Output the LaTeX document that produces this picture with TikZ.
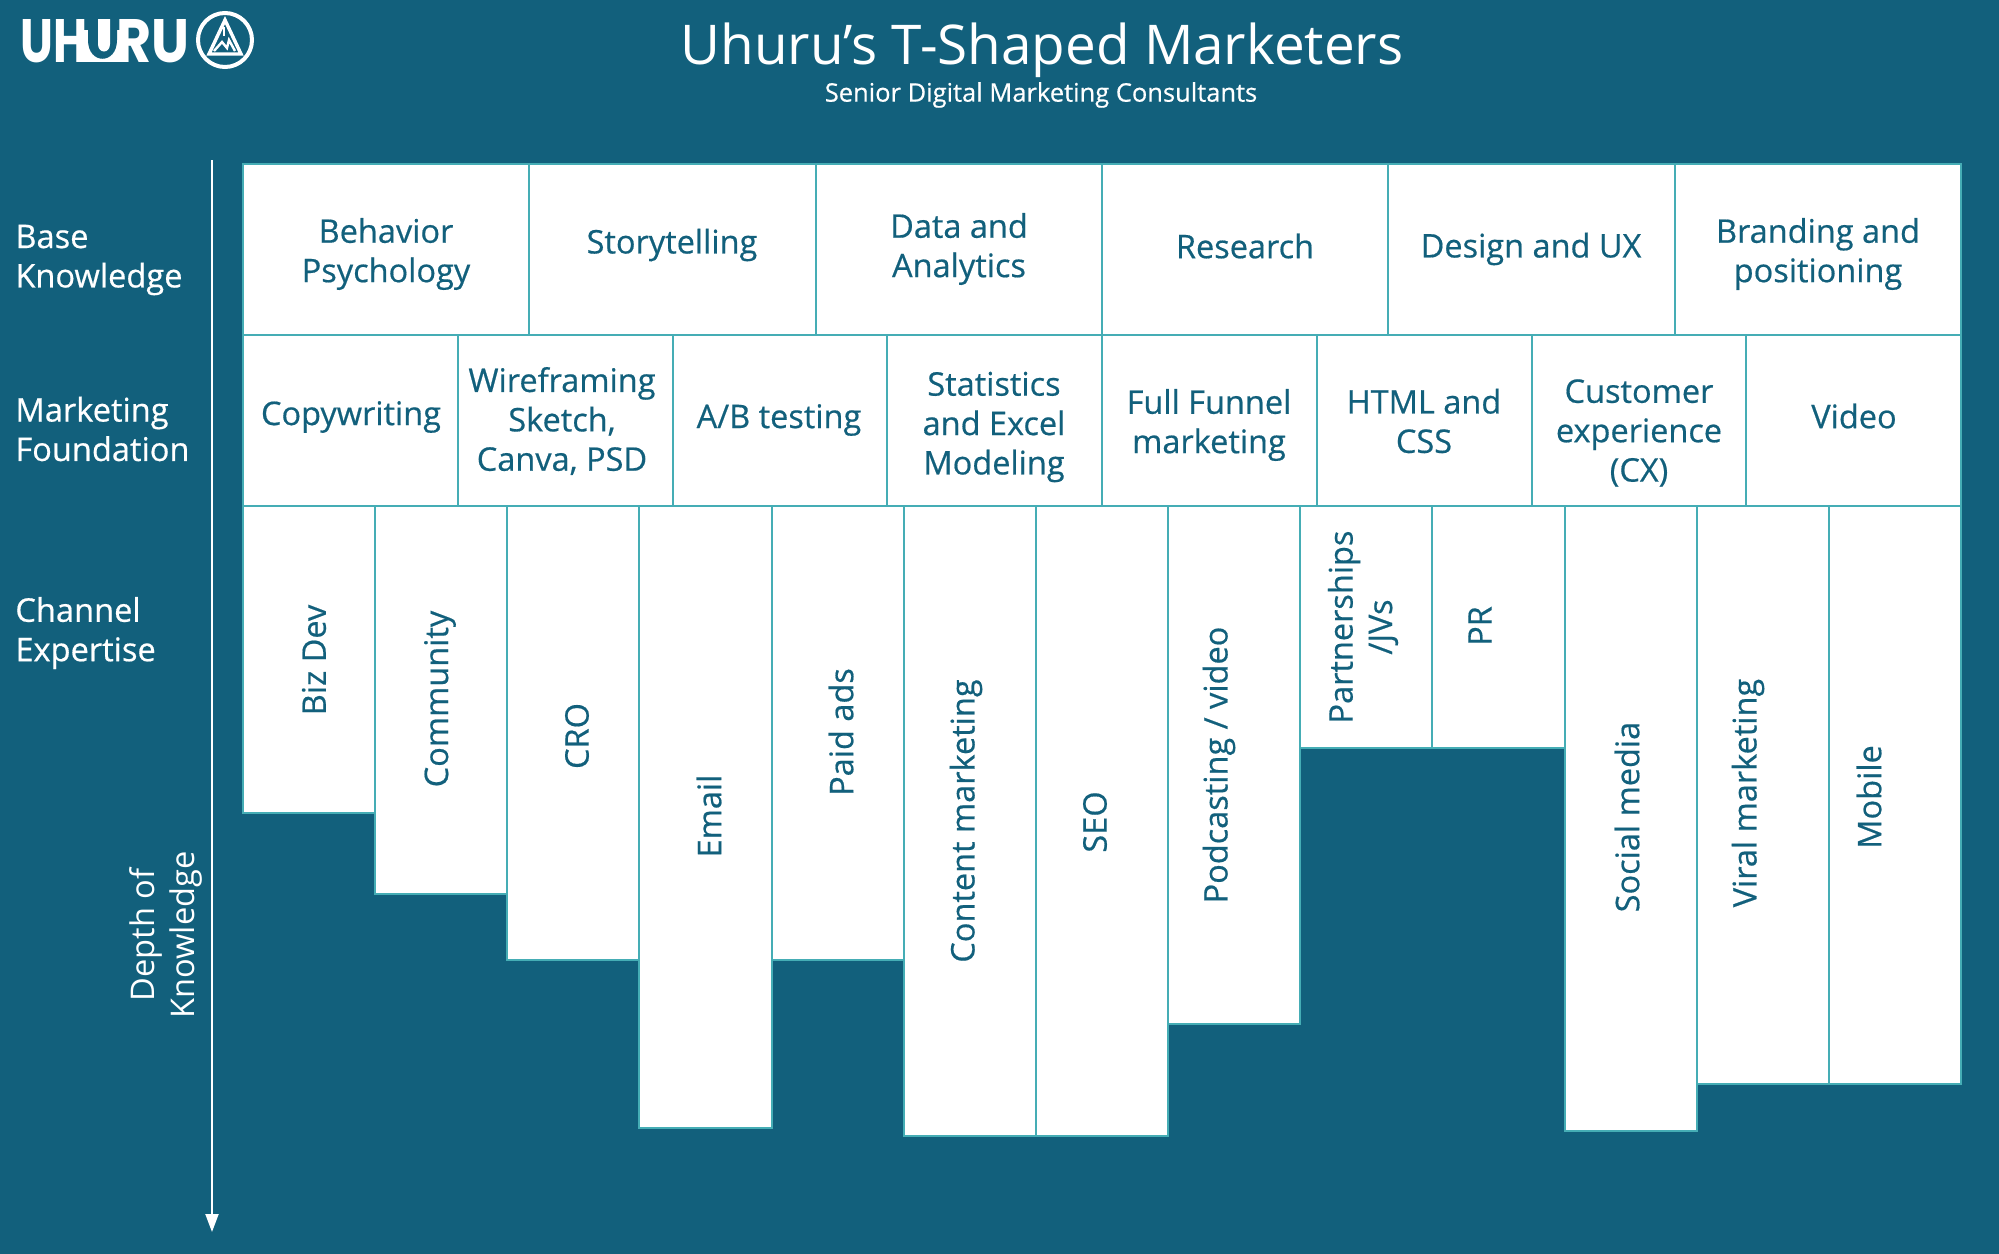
\documentclass[tikz,border=0pt]{standalone}
\usepackage{fontspec}
\usepackage{graphicx}
\setmainfont{Open Sans}
\newfontfamily\semifont[FakeBold=0.5]{Open Sans}
\newfontfamily\logofont{Poppins}
\usetikzlibrary{arrows.meta}
\definecolor{bgc}{HTML}{12607C}
\definecolor{edgec}{HTML}{45ADB5}
\tikzset{
  cell/.style={draw=edgec,fill=white,line width=1pt,anchor=north west,inner sep=0pt,outer sep=0pt},
  txt/.style={text=bgc,align=center,inner sep=0pt,font=\semifont\fontsize{16.25}{19.7}\selectfont},
  rot/.style={txt,rotate=90},
  side/.style={text=white,align=left,anchor=west,inner sep=0pt,font=\semifont\fontsize{16.3}{19.7}\selectfont},
  depthlab/.style={text=white,align=center,rotate=90,inner sep=0pt,font=\fontsize{16.3}{19.7}\selectfont},
}
\begin{document}
\begin{tikzpicture}[x=0.5pt,y=-0.5pt]
\fill[bgc] (0,0) rectangle (1999,1254);
\useasboundingbox (0,0) rectangle (1999,1254);

% logo
\fill[white] (84,30) -- (84,62) -- (122,62) -- (122,30) -- cycle;
\fill[bgc] (88,15) -- (88,40) .. controls (88,65) and (117,65) .. (117,40) -- (117,15) -- cycle;
\fill[white] (98,19) -- (110,19) -- (110,44) .. controls (110,54) and (98,54) .. (98,44) -- cycle;
\node[text=white,inner sep=0pt,anchor=center] (logoa) at (54.5,41) {\resizebox{33.5pt}{21.5pt}{\logofont\bfseries UH}};
\node[text=white,inner sep=0pt,anchor=center] (logob) at (153,41) {\resizebox{36.5pt}{21.5pt}{\logofont\bfseries RU}};
\draw[white,line width=2pt] (225,40) circle (27);
\draw[white,line width=1.7pt,line join=miter] (225,20) -- (241,54) -- (209,54) -- cycle;
\draw[white,line width=1.2pt] (214,51) -- (222,42) -- (227,48) -- (229,40) -- (235,51);
\draw[white,line width=1.4pt] (224,27) -- (224,36);

% title
\node[text=white,inner sep=0pt,font=\fontsize{27.4}{32}\selectfont] (title) at (1042,50) {Uhuru’s T-Shaped Marketers};
\node[text=white,inner sep=0pt,font=\semifont\fontsize{12.75}{16}\selectfont] (subtitle) at (1041,95) {Senior Digital Marketing Consultants};

% side labels
\node[side] (sa) at (15,260) {Base\\Knowledge};
\node[side] (sb) at (15,429) {Marketing\\Foundation};
\node[side] (sc) at (15,633) {Channel\\Expertise};
\node[depthlab] (sd) at (166,935) {Depth of\\Knowledge};

% depth arrow
\coordinate (arrs) at (212,160);
\coordinate (arre) at (212,1232);
\draw[white,line width=1pt,-{Triangle[width=6.5pt,length=9pt]}] (arrs) -- (arre);

% base row
\foreach \i in {0,...,5}
  \node[cell,minimum width=143.17pt,minimum height=85.5pt] (b\i) at ({243+286.33*\i},164) {};
% marketing row
\foreach \i in {0,...,7}
  \node[cell,minimum width=107.38pt,minimum height=85.5pt] (m\i) at ({243+214.75*\i},335) {};
% channel row
\foreach \i/\b in {0/813,1/894,2/960,3/1128,4/960,5/1136,6/1136,7/1024,8/748,9/748,10/1131,11/1084,12/1084}
  \node[cell,minimum width=66.08pt,minimum height={(\b-506)*0.5pt}] (c\i) at ({243+132.15*\i},506) {};

% base labels
\node[txt] (tb0) at (386,254) {Behavior\\Psychology};
\node[txt] (tb1) at (672,245) {Storytelling};
\node[txt] (tb2) at (959,249) {Data and\\Analytics};
\node[txt] (tb3) at (1245,246) {Research};
\node[txt] (tb4) at (1531,249) {Design and UX};
\node[txt] (tb5) at (1818,254) {Branding and\\positioning};

% marketing labels
\node[txt] (tm0) at (351,417) {Copywriting};
\node[txt] (tm1) at (562,421) {Wireframing\\Sketch,\\Canva, PSD};
\node[txt] (tm2) at (779,420) {A/B testing};
\node[txt] (tm3) at (994,427) {Statistics\\and Excel\\Modeling};
\node[txt] (tm4) at (1209,425) {Full Funnel\\marketing};
\node[txt] (tm5) at (1424,421) {HTML and\\CSS};
\node[txt] (tm6) at (1639,433) {Customer\\experience\\(CX)};
\node[txt] (tm7) at (1854,416) {Video};

% channel labels
\node[rot] (tc0) at (314,660) {Biz Dev};
\node[rot] (tc1) at (440,699) {Community};
\node[rot] (tc2) at (577,736) {CRO};
\node[rot] (tc3) at (709,816) {Email};
\node[rot] (tc4) at (841,732) {Paid ads};
\node[rot] (tc5) at (966,821) {Content marketing};
\node[rot] (tc6) at (1095,822) {SEO};
\node[rot] (tc7) at (1219,765) {Podcasting / video};
\node[rot] (tc8) at (1363,627) {Partnerships\\/JVs};
\node[rot] (tc9) at (1480,626) {PR};
\node[rot] (tc10) at (1627,817) {Social media};
\node[rot] (tc11) at (1748,793) {Viral marketing};
\node[rot] (tc12) at (1869,797) {Mobile};
\end{tikzpicture}
\end{document}
